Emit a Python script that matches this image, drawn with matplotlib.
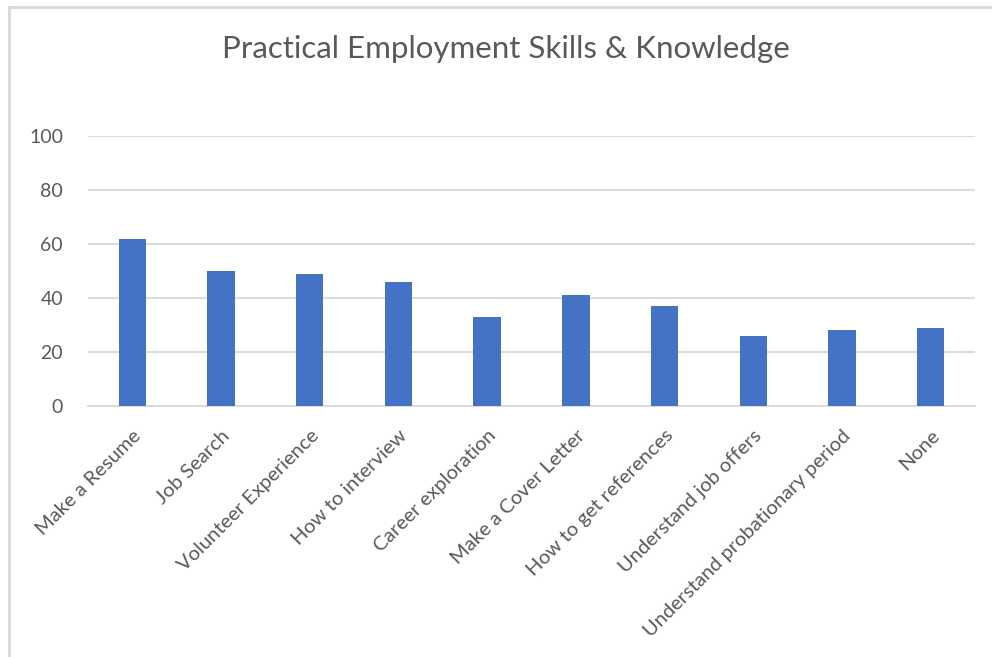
import matplotlib
matplotlib.use('Agg')
import matplotlib.pyplot as plt
from matplotlib.lines import Line2D
import numpy as np

# Skills survey responses
categories = [
    'Make a Resume',
    'Job Search',
    'Volunteer Experience',
    'How to interview',
    'Career exploration',
    'Make a Cover Letter',
    'How to get references',
    'Understand job offers',
    'Understand probationary period',
    'None',
]
values = [62, 50, 49, 46, 33, 41, 37, 26, 28, 29]
y_ticks = [0, 20, 40, 60, 80, 100]

BAR_COLOR = '#4472C4'
GRID_COLOR = '#D9D9D9'
TEXT_COLOR = '#595959'

plt.rcParams['font.family'] = ['Lato', 'DejaVu Sans']

fig = plt.figure(figsize=(9.92, 6.57), dpi=100)
fig.patch.set_facecolor('white')

ax = fig.add_axes([88 / 992, 1 - 406 / 657, (975 - 88) / 992, (406 - 136) / 657])

x = np.arange(len(categories))
ax.bar(x, values, width=0.31, color=BAR_COLOR, zorder=3)

ax.set_ylim(0, 100)
ax.set_xlim(-0.5, len(categories) - 0.5)
ax.set_yticks(y_ticks)
ax.set_yticklabels([str(v) for v in y_ticks], fontsize=14, color=TEXT_COLOR)
ax.set_xticks(x)
ax.set_xticklabels(categories, fontsize=14.5, color=TEXT_COLOR,
                   rotation=45, ha='right', rotation_mode='anchor')
ax.tick_params(axis='both', length=0)
ax.tick_params(axis='y', pad=18)
ax.tick_params(axis='x', pad=15)

ax.grid(axis='y', color=GRID_COLOR, linewidth=1.3, zorder=0)
for side in ['top', 'right', 'left']:
    ax.spines[side].set_visible(False)
ax.spines['bottom'].set_color(GRID_COLOR)
ax.spines['bottom'].set_linewidth(1.3)

fig.text(506 / 992, 1 - 49 / 657, 'Practical Employment Skills & Knowledge',
         fontsize=22.5, color=TEXT_COLOR, ha='center', va='center')

# Chart frame (top and left edges)
fig.add_artist(Line2D([9 / 992, 1], [1 - 7 / 657, 1 - 7 / 657],
                      transform=fig.transFigure, color=GRID_COLOR, lw=2))
fig.add_artist(Line2D([9 / 992, 9 / 992], [0, 1 - 7 / 657],
                      transform=fig.transFigure, color=GRID_COLOR, lw=2))

fig.savefig('out.png', dpi=100, facecolor='white')
